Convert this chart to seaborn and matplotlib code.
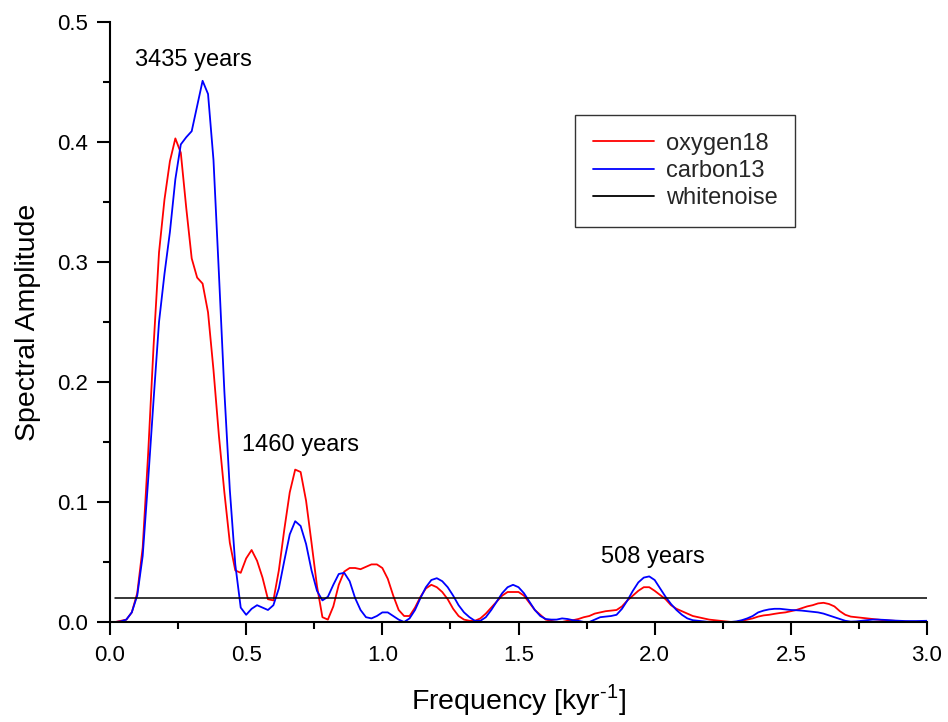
import numpy as np
import pandas as pd
import matplotlib
matplotlib.use("Agg")
import matplotlib.pyplot as plt
from matplotlib.ticker import MultipleLocator
import seaborn as sns

# ---------------- data ----------------
freq = [round(0.02 * i, 2) for i in range(151)]  # kyr^-1, 0.00 ... 3.00

oxygen18 = [
    0.000, 0.000, 0.001, 0.002, 0.008, 0.024, 0.062, 0.140, 0.230, 0.308,
    0.352, 0.384, 0.403, 0.391, 0.345, 0.303, 0.287, 0.282, 0.258, 0.210,
    0.155, 0.108, 0.066, 0.043, 0.041, 0.053, 0.060, 0.051, 0.037, 0.019,
    0.018, 0.043, 0.077, 0.108, 0.127, 0.125, 0.101, 0.066, 0.030, 0.004,
    0.002, 0.013, 0.031, 0.042, 0.045, 0.045, 0.044, 0.046, 0.048, 0.048,
    0.045, 0.036, 0.022, 0.010, 0.005, 0.005, 0.012, 0.021, 0.028, 0.031,
    0.029, 0.025, 0.019, 0.011, 0.005, 0.002, 0.001, 0.001, 0.003, 0.007,
    0.012, 0.017, 0.022, 0.025, 0.025, 0.025, 0.022, 0.016, 0.010, 0.006,
    0.002, 0.001, 0.000, 0.000, 0.001, 0.0015, 0.0025, 0.004, 0.005, 0.007,
    0.008, 0.009, 0.0095, 0.010, 0.013, 0.018, 0.022, 0.026, 0.029, 0.029,
    0.026, 0.0225, 0.019, 0.014, 0.011, 0.009, 0.007, 0.005, 0.004, 0.003,
    0.002, 0.0015, 0.001, 0.0005, 0.000, 0.000, 0.001, 0.002, 0.003, 0.0045,
    0.0055, 0.006, 0.0068, 0.0075, 0.008, 0.009, 0.010, 0.0115, 0.013, 0.014,
    0.0155, 0.016, 0.015, 0.013, 0.009, 0.006, 0.0045, 0.004, 0.0035, 0.003,
    0.0025, 0.002, 0.0015, 0.0012, 0.001, 0.0005, 0.0003, 0.000, 0.000, 0.0002,
    0.0003,
]

carbon13 = [
    0.000, 0.000, 0.0005, 0.002, 0.008, 0.022, 0.055, 0.118, 0.185, 0.250,
    0.290, 0.325, 0.369, 0.398, 0.404, 0.409, 0.430, 0.451, 0.440, 0.385,
    0.290, 0.192, 0.110, 0.048, 0.012, 0.006, 0.011, 0.014, 0.012, 0.010,
    0.014, 0.028, 0.051, 0.073, 0.084, 0.080, 0.065, 0.043, 0.026, 0.018,
    0.021, 0.031, 0.040, 0.041, 0.034, 0.020, 0.010, 0.004, 0.003, 0.005,
    0.008, 0.008, 0.005, 0.002, 0.000, 0.003, 0.010, 0.020, 0.029, 0.035,
    0.0365, 0.034, 0.029, 0.022, 0.014, 0.008, 0.004, 0.001, 0.001, 0.004,
    0.010, 0.017, 0.024, 0.029, 0.031, 0.029, 0.024, 0.017, 0.010, 0.005,
    0.0025, 0.002, 0.002, 0.003, 0.0025, 0.0015, 0.001, 0.000, 0.000, 0.002,
    0.004, 0.0045, 0.005, 0.006, 0.011, 0.018, 0.026, 0.033, 0.037, 0.038,
    0.035, 0.028, 0.021, 0.015, 0.010, 0.006, 0.003, 0.0015, 0.001, 0.0005,
    0.000, 0.000, 0.000, 0.000, 0.000, 0.0005, 0.0015, 0.003, 0.005, 0.008,
    0.0095, 0.0105, 0.011, 0.011, 0.0105, 0.010, 0.0098, 0.0095, 0.009, 0.0085,
    0.008, 0.007, 0.0055, 0.004, 0.0025, 0.001, 0.0003, 0.0005, 0.001, 0.0015,
    0.002, 0.002, 0.0018, 0.0015, 0.0012, 0.001, 0.0008, 0.0008, 0.0008, 0.0009,
    0.001,
]

noise_freq = [0.02, 3.0]
noise_level = [0.02, 0.02]

series_names = ["oxygen18", "carbon13", "whitenoise"]
series_colors = ["#ff0000", "#0000ff", "#000000"]

annot_text = ["3435 years", "1460 years", "508 years"]
annot_x = [0.308, 0.698, 1.992]
annot_y = [0.468, 0.1475, 0.0544]

# ---------------- style ----------------
sns.set_theme(style="ticks")
plt.rcParams["font.family"] = ["Liberation Sans", "DejaVu Sans"]
plt.rcParams["mathtext.fontset"] = "custom"
plt.rcParams["mathtext.rm"] = "Liberation Sans"

fig = plt.figure(figsize=(9.48, 7.22), dpi=100)
ax = fig.add_axes([110 / 948, 100 / 722, 817 / 948, 600 / 722])

df = pd.DataFrame({
    "freq": freq * 2 + noise_freq,
    "amp": oxygen18 + carbon13 + noise_level,
    "series": [series_names[0]] * len(freq) + [series_names[1]] * len(freq)
              + [series_names[2]] * len(noise_freq),
})

for name, col, lw in zip(series_names, series_colors, [1.3, 1.3, 1.1]):
    sub = df[df["series"] == name]
    sns.lineplot(data=sub, x="freq", y="amp", color=col, linewidth=lw,
                 label=name, estimator=None, sort=False, ax=ax)

ax.set_xlim(0, 3.0)
ax.set_ylim(0, 0.5)
ax.xaxis.set_major_locator(MultipleLocator(0.5))
ax.xaxis.set_minor_locator(MultipleLocator(0.25))
ax.yaxis.set_major_locator(MultipleLocator(0.1))
ax.yaxis.set_minor_locator(MultipleLocator(0.05))
ax.xaxis.set_major_formatter(matplotlib.ticker.FormatStrFormatter("%.1f"))
ax.yaxis.set_major_formatter(matplotlib.ticker.FormatStrFormatter("%.1f"))

sns.despine(ax=ax)
for s in ["left", "bottom"]:
    ax.spines[s].set_linewidth(1.5)
    ax.spines[s].set_color("black")
ax.tick_params(which="major", direction="out", length=9.5, width=1.5,
               labelsize=16, colors="black")
ax.tick_params(axis="x", which="major", pad=7)
ax.tick_params(axis="y", which="major", pad=6)
ax.tick_params(which="minor", direction="out", length=5, width=1.5,
               colors="black")

ax.set_xlabel(r"Frequency [kyr$^{\text{-1}}$]", fontsize=20.5, labelpad=12,
              color="black")
ax.set_ylabel("Spectral Amplitude", fontsize=20.5, labelpad=12, color="black")

for t, x, y in zip(annot_text, annot_x, annot_y):
    ax.text(x, y, t, ha="center", va="center", fontsize=17, color="black")

leg = ax.legend(loc="upper left", bbox_to_anchor=(0.569, 0.845),
                borderaxespad=0, frameon=True, fancybox=False, fontsize=17,
                handlelength=2.6, handletextpad=0.5, labelspacing=0.22,
                borderpad=0.75)
leg.get_frame().set_edgecolor("black")
leg.get_frame().set_linewidth(1.0)
for line in leg.get_lines():
    line.set_linewidth(1.3)

fig.savefig("out.png", dpi=100, facecolor="white")
